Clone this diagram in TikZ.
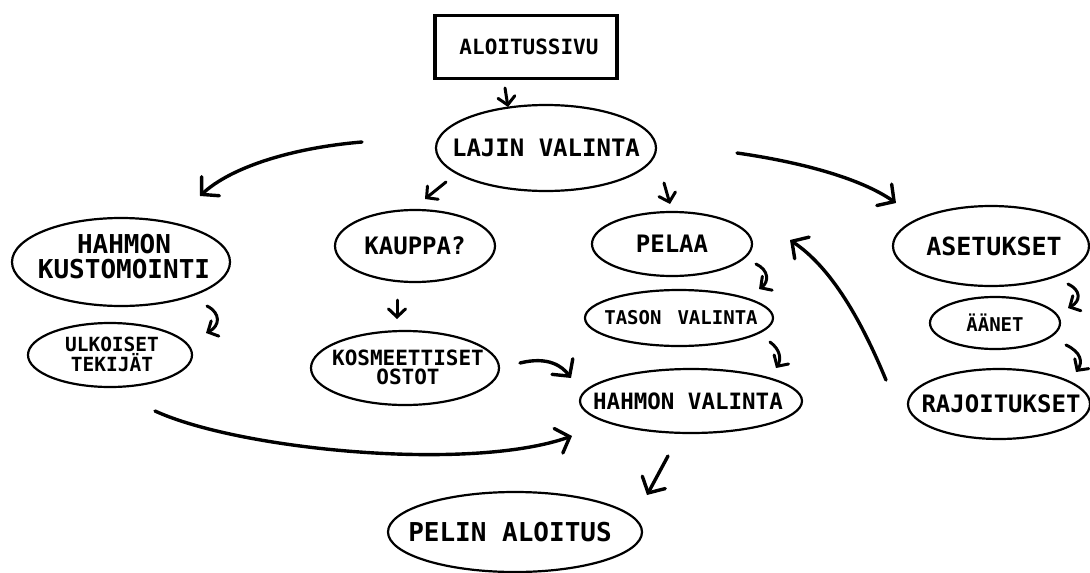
\documentclass[tikz,border=0pt]{standalone}
\usepackage{fontspec}
\newfontfamily\hand{DejaVu Sans Mono}
\usetikzlibrary{shapes.geometric,arrows.meta,calc}

\newcommand{\fsb}[2]{\fontsize{#1}{#2}\selectfont}
\tikzset{
  oval/.style={ellipse, draw, line width=2.2pt, inner sep=0pt},
  txt/.style={font=\hand\bfseries\fsb{#1}{#1}, align=center, inner sep=0pt},
  flow/.style={line width=3pt, line cap=round,
    -{Straight Barb[length=8pt,width=17pt,line cap=round]}},
  bigflow/.style={line width=3.4pt, line cap=round,
    -{Straight Barb[length=12pt,width=26pt,line cap=round]}}
}

\begin{document}
\begin{tikzpicture}[x=1pt,y=-1pt]
\useasboundingbox (0,0) rectangle (1090,573);

% start page box
\node[draw, line width=3.5pt, minimum width=182pt, minimum height=63pt, inner sep=0pt] (alo) at (526,47) {};
\node[txt=21] at ($(alo)+(3,0)$) {ALOITUSSIVU};

% ovals and their labels
\node[oval, minimum width=220pt, minimum height=86pt] (lajin) at (546,148) {};
\node[txt=24] at (lajin) {LAJIN VALINTA};

\node[oval, minimum width=218pt, minimum height=88pt] (hk) at (121,262) {};
\node[txt, font=\hand\bfseries\fsb{26}{25}] at ($(hk)+(3,-5)$) {HAHMON\\KUSTOMOINTI};

\node[oval, minimum width=164pt, minimum height=64pt] (ulk) at (110,355) {};
\node[txt, font=\hand\bfseries\fsb{19.5}{20}] at ($(ulk)+(2,-1)$) {ULKOISET\\TEKIJÄT};

\node[oval, minimum width=160pt, minimum height=72pt] (kauppa) at (415,246) {};
\node[txt=24] at (kauppa) {KAUPPA?};

\node[oval, minimum width=188pt, minimum height=74pt] (kos) at (405,368) {};
\node[txt, font=\hand\bfseries\fsb{21}{19}] at ($(kos)+(3,-1)$) {KOSMEETTISET\\OSTOT};

\node[oval, minimum width=160pt, minimum height=64pt] (pelaa) at (672,244) {};
\node[txt=24] at (pelaa) {PELAA};

\node[oval, minimum width=188pt, minimum height=56pt] (tason) at (679,318) {};
\node[txt=19] at ($(tason)+(2,0)$) {TASON\hspace*{16pt}VALINTA};

\node[oval, minimum width=222pt, minimum height=64pt] (hv) at (691,401) {};
\node[txt=22.5] at ($(hv)+(-3,0)$) {HAHMON VALINTA};

\node[oval, minimum width=254pt, minimum height=80pt] (pelin) at (515,532) {};
\node[txt=26] at ($(pelin)+(-5,0)$) {PELIN ALOITUS};

\node[oval, minimum width=196pt, minimum height=80pt] (aset) at (991,246) {};
\node[txt=25] at ($(aset)+(3,0)$) {ASETUKSET};

\node[oval, minimum width=130pt, minimum height=52pt] (aanet) at (995,323) {};
\node[txt=19] at (aanet) {ÄÄNET};

\node[oval, minimum width=182pt, minimum height=70pt] (raj) at (999,404) {};
\node[txt=24] at ($(raj)+(2,0)$) {RAJOITUKSET};

% connectors
\draw[flow] ($(alo)+(-21,41)$) -- ($(lajin)+(-38,-41)$);

\draw[bigflow] ($(lajin)+(-184,-6)$) .. controls (290,148) and (230,168) .. ($(hk)+(79,-66)$);
\draw[flow] ($(lajin)+(-100,34)$) -- ($(kauppa)+(10,-47)$);
\draw[flow] ($(lajin)+(118,35)$) -- ($(pelaa)+(-2,-40)$);
\draw[bigflow] ($(lajin)+(191,5)$) .. controls (800,162) and (860,178) .. ($(aset)+(-95,-43)$);

\draw[flow] ($(hk)+(86,44)$) .. controls (221,313) and (220,326) .. ($(ulk)+(96,-22)$);
\draw[flow] ($(kauppa)+(-18,54)$) -- ($(kos)+(-8,-49)$);
\draw[flow] ($(pelaa)+(84,20)$) .. controls (769,270) and (769,282) .. ($(tason)+(80,-29)$);
\draw[flow] ($(tason)+(91,24)$) .. controls (781,350) and (781,360) .. ($(hv)+(85,-33)$);

\draw[bigflow] ($(kos)+(115,-5)$) .. controls (548,356) and (562,366) .. ($(hv)+(-120,-23)$);
\draw[bigflow] ($(ulk)+(45,56)$) .. controls (240,450) and (470,472) .. ($(hv)+(-119,35)$);
\draw[bigflow] ($(hv)+(-23,55)$) -- ($(pelin)+(132,-37)$);
\draw[bigflow] ($(raj)+(-113,-24)$) .. controls (862,322) and (832,268) .. ($(pelaa)+(118,-4)$);

\draw[flow] ($(aset)+(77,38)$) .. controls (1081,290) and (1081,301) .. ($(aanet)+(73,-15)$);
\draw[flow] ($(aanet)+(71,22)$) .. controls (1081,352) and (1083,362) .. ($(raj)+(77,-32)$);
\end{tikzpicture}
\end{document}
